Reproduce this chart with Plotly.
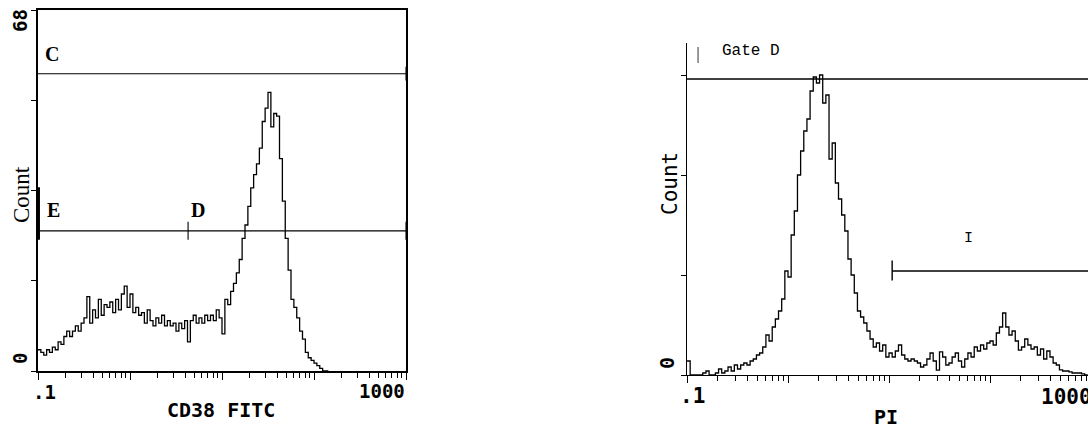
import numpy as np
import plotly.graph_objects as go

W, H = 1088, 430

# ---------------- data (histogram counts per channel, 32 channels / decade) ----------------
left_counts = [4, 3.5, 3, 4, 3.5, 4.5, 4, 5.5, 5, 6.5,
               7.5, 6.5, 7.5, 8.5, 7.5, 9, 10, 14, 9, 11.5,
               10, 13.5, 10.5, 12.5, 12, 13, 11, 13.5, 11.5, 14.5,
               16, 12, 14.5, 11, 12, 10.5, 11, 9, 11.5, 9.5,
               8.5, 10, 9, 10.5, 8.5, 9.5, 8.5, 9, 7.5, 9,
               8, 9.5, 5.5, 9.5, 10.5, 9, 10, 9, 10.5, 9.5,
               10.5, 9.5, 11.5, 10, 7, 13.5, 12.5, 15, 16.5, 18.5,
               21, 25, 27.5, 31, 34.5, 37, 39, 42, 47, 49.5,
               52.5, 46, 48.5, 48, 40, 32, 25, 19, 13.5, 12,
               10, 7.5, 6, 3.5, 2.5, 2, 1.5, 1, 0.5, 0, 0, 0]

right_counts = [3.5, 0, 0, 0, 0, 0.5, 1, 0, 0, 0.5,
                1.5, 0.5, 1, 2, 1, 2.5, 1.5, 2.5, 3, 2.5,
                3.5, 4, 5, 5.5, 7, 10, 8.5, 12, 14, 16,
                19, 26, 24.5, 35, 41, 50, 56, 61, 64, 71,
                74.5, 73, 75, 68, 70, 54, 58, 48, 44, 40,
                36, 29, 25, 20.5, 16, 14.5, 13, 11, 9, 7,
                8, 6, 7.5, 4.5, 5.5, 4.5, 6, 7.5, 5, 4,
                3.5, 4, 3.5, 3, 2, 2.5, 4, 5.5, 3.5, 1.2,
                5.8, 4.5, 2.5, 3, 4.5, 5.5, 3.5, 2, 4, 5.5,
                4.5, 7, 6, 7.5, 6.5, 8, 8.5, 7.5, 10.5, 12,
                15.5, 12, 10, 11, 8.5, 6.2, 7, 9, 7.5, 6.5,
                7, 5, 6.5, 4, 6, 4.5, 3, 2.5, 1.3, 1,
                1, 0.8, 0.5, 0.5, 0.5, 0.3, 0, 0]

# gates: [start channel, end channel], level (counts)
gate_C = [0, 128];        gate_C_level = 56
gate_E = [0, 52.2];       gate_D = [52.2, 128];   gate_ED_level = 26.4
gate_D_right = [0, 128];  gate_D_right_level = 74
gate_I = [65, 128];       gate_I_level = 26

x_tick_labels = [".1", "1000"]
CHANNELS_PER_DECADE = 32
N_DECADES = 4

# ---------------- figure ----------------
fig = go.Figure()
blk = "black"

def hist(counts, xa, ya):
    fig.add_trace(go.Scatter(x=list(range(len(counts))), y=counts, mode="lines",
                             line=dict(color=blk, width=1.3, shape="hv"),
                             xaxis=xa, yaxis=ya, hoverinfo="skip"))

def seg(xs, ys, xa, ya, w=1.1):
    fig.add_trace(go.Scatter(x=xs, y=ys, mode="lines", line=dict(color=blk, width=w),
                             xaxis=xa, yaxis=ya, hoverinfo="skip"))

hist(left_counts, "x", "y")
hist(right_counts, "x2", "y2")

# left gates
seg(gate_C, [gate_C_level] * 2, "x", "y")
seg([gate_C[1]] * 2, [gate_C_level - 1.3, gate_C_level + 1.3], "x", "y")
seg([gate_E[0], gate_D[1]], [gate_ED_level] * 2, "x", "y")
seg([gate_D[0]] * 2, [gate_ED_level - 1.7, gate_ED_level + 1.7], "x", "y")
seg([gate_D[1]] * 2, [gate_ED_level - 1.7, gate_ED_level + 1.7], "x", "y")
seg([gate_E[0] + 0.25] * 2, [gate_ED_level - 1.7, 34.6], "x", "y", w=2.5)

# right gates
seg(gate_D_right, [gate_D_right_level] * 2, "x2", "y2", w=1.3)
seg([3.5, 3.5], [78, 82], "x2", "y2", w=0.8)
seg(gate_I, [gate_I_level] * 2, "x2", "y2", w=1.4)
seg([gate_I[0]] * 2, [gate_I_level - 2.4, gate_I_level + 2.6], "x2", "y2", w=1.4)

# log tick positions in channel units
major = [CHANNELS_PER_DECADE * d for d in range(N_DECADES + 1)]
minor = [CHANNELS_PER_DECADE * (d + np.log10(m)) for d in range(N_DECADES) for m in range(2, 10)]

xcommon = dict(showgrid=False, zeroline=False, showline=True, linecolor=blk,
               ticks="outside", tickvals=major, ticklen=7, tickwidth=1.3, tickcolor=blk,
               showticklabels=False,
               minor=dict(tickmode="array", tickvals=minor, ticks="outside",
                          ticklen=5, tickwidth=1.1, tickcolor=blk))
ycommon = dict(showgrid=False, zeroline=False, showline=True, linecolor=blk,
               ticks="outside", ticklen=5, tickwidth=1, tickcolor=blk, showticklabels=False)

fig.update_layout(
    width=W, height=H, margin=dict(l=0, r=0, t=0, b=0),
    paper_bgcolor="white", plot_bgcolor="white", showlegend=False,
    xaxis=dict(domain=[38 / W, 406 / W], range=[0, 128], mirror=True, linewidth=1.5, **xcommon),
    yaxis=dict(domain=[(H - 371) / H, (H - 10) / H], range=[0, 68], mirror=True, linewidth=1.5,
               tickvals=[0, 17, 34, 51, 68], **ycommon),
    xaxis2=dict(domain=[687 / W, 1], range=[0, 127.05], anchor="y2", linewidth=1.2, **xcommon),
    yaxis2=dict(domain=[(H - 375) / H, (H - 43) / H], range=[0, 83], anchor="x2", linewidth=1.2,
                tickvals=[0, 25, 50, 75], **ycommon),
)

def ann(text, px, py, size, family="DejaVu Sans Mono", bold=True, angle=0, xanchor="center"):
    t = f"<b>{text}</b>" if bold else text
    fig.add_annotation(text=t, x=px / W, y=1 - py / H, xref="paper", yref="paper",
                       showarrow=False, textangle=angle, xanchor=xanchor, yanchor="middle",
                       font=dict(family=family, size=size, color=blk))

# left panel text
ann("C", 52, 54, 20, family="Liberation Serif")
ann("E", 53, 210, 20, family="Liberation Serif")
ann("D", 198, 210, 20, family="Liberation Serif")
ann(x_tick_labels[0], 44, 392, 19)
ann(x_tick_labels[1], 407, 391, 19, xanchor="right")
ann("CD38 FITC", 221, 410, 20)
ann("0", 20, 359, 19, angle=-90)
ann("68", 20, 21, 19, angle=-90)
ann("Count", 22, 195, 23, family="Liberation Serif", bold=False, angle=-90)

# right panel text
ann("Gate D", 751, 51, 16, family="Liberation Mono", bold=False)
ann("I", 968, 238, 15, family="Liberation Mono", bold=False)
ann(x_tick_labels[0], 692, 396, 21)
ann(x_tick_labels[1], 1094, 397, 21, xanchor="right")
ann("PI", 886, 417, 20)
ann("0", 667, 363, 20, angle=-90)
ann("Count", 670, 184, 21, bold=False, angle=-90)

fig.write_html("out.html")
